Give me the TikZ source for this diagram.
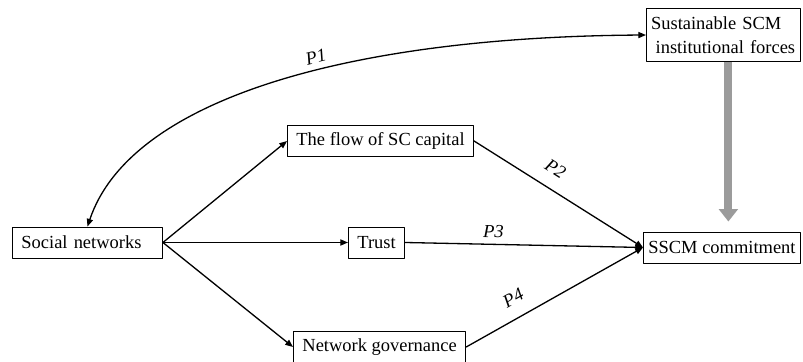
\documentclass[tikz,border=0pt]{standalone}
\usepackage{fontspec}
\setmainfont{Liberation Serif}
\usetikzlibrary{arrows, arrows.meta}
\usetikzlibrary{positioning}
\definecolor{arrowgray}{RGB}{155,155,155}

\begin{document}
\begin{tikzpicture}[line cap=round,line join=round,>={Triangle[length=5pt,width=4pt]},x=0.65pt,y=0.65pt,
  box/.style={draw,line width=0.6pt,anchor=west,inner xsep=5.85pt,minimum height=20.15pt,font=\fontsize{12}{15.5}\selectfont},
  link/.style={->,line width=0.85pt},
  plab/.style={font=\fontsize{12}{14}\selectfont\itshape,sloped,above=5pt}]
\useasboundingbox (0,0) rectangle (803,362);
% boxes
\node[box,text width=85.8pt,align=left] (soc) at (12,119.5) {Social networks};
\node[box] (flow) at (287,221) {The flow of SC capital};
\node[box] (trust) at (348,119.5) {Trust};
\node[box] (gov) at (293,15) {Network governance};
\node[box,inner xsep=3.2pt] (ssc) at (643,114.5) {SSCM commitment};
\node[box,inner xsep=3pt,text width=94pt,align=left,minimum height=35pt] (inst) at (646,327) {Sustainable SCM\\\hspace{3pt}institutional forces};
% paths
\draw[link,<->] (soc.north) .. controls (130,262) and (346,325) .. (inst.west) node[plab,pos=0.58,above=1pt] {P1};
\draw[link] (soc.east) -- (flow.west);
\draw[link] (soc.east) -- (trust.west);
\draw[link] (soc.east) -- (gov.west);
\draw[link] (flow.east) -- (ssc.west) node[plab,pos=0.42] {P2};
\draw[link] (trust.east) -- (ssc.west) node[plab,pos=0.37,above=0.5pt] {P3};
\draw[link] (gov.east) -- (ssc.west) node[plab,pos=0.32] {P4};
\draw[arrowgray,line width=5.2pt,line cap=butt,-{Triangle[width=12pt,length=8pt]},shorten >=6.5pt] ([xshift=3.25pt]inst.south) -- ([xshift=3.25pt]inst.south |- ssc.north);
\end{tikzpicture}
\end{document}
